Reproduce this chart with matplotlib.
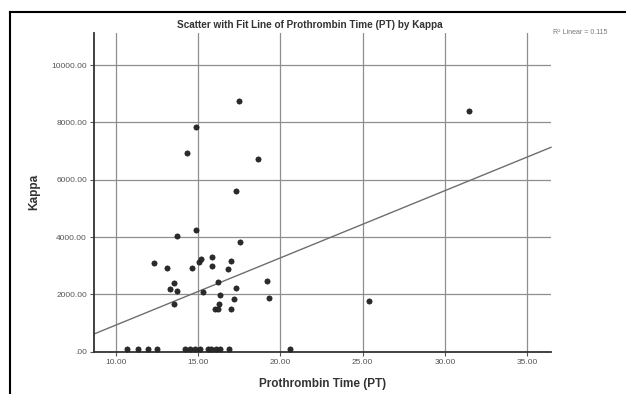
import matplotlib
matplotlib.use("Agg")
import matplotlib.pyplot as plt
from matplotlib.lines import Line2D
from matplotlib.ticker import FuncFormatter

plt.rcParams['font.family'] = ['Liberation Sans', 'DejaVu Sans']

# values
pt = [17.47, 14.84, 14.33, 18.64, 17.32, 14.84, 13.72, 17.53, 12.31, 13.11,
      14.63, 15.04, 15.16, 15.85, 15.85, 17.02, 16.82, 13.52, 13.32, 13.74,
      16.18, 15.30, 17.32, 16.31, 19.21, 19.31, 13.52, 17.18, 16.25, 16.01,
      16.21, 17.02, 31.48, 25.37,
      10.65, 11.35, 11.96, 12.47, 14.2, 14.5, 14.8, 15.1, 15.6, 15.8,
      16.1, 16.3, 16.9, 20.56]
kappa = [8730, 7830, 6925, 6715, 5620, 4250, 4050, 3840, 3085, 2910,
         2930, 3140, 3225, 3295, 3000, 3175, 2875, 2410, 2180, 2120,
         2420, 2095, 2215, 1980, 2470, 1865, 1655, 1840, 1655, 1480,
         1480, 1480, 8410, 1770,
         80, 80, 80, 80, 80, 80, 80, 80, 80, 80,
         80, 80, 80, 80]

fit_intercept = -1416
fit_slope = 234.5
r2 = 0.115

x_ticks = [10, 15, 20, 25, 30, 35]
y_ticks = [0, 2000, 4000, 6000, 8000, 10000]
x_lim = (8.67, 36.45)
y_lim = (0, 11120)


def fmt(v, pos):
    s = f"{v:.2f}"
    if s.startswith("0."):
        s = s[1:]
    return s


fig = plt.figure(figsize=(6.26, 3.94), dpi=100)
ax = fig.add_axes([94 / 626, 42.3 / 394, 457 / 626, 318.7 / 394])

ax.set_xlim(*x_lim)
ax.set_ylim(*y_lim)
ax.set_xticks(x_ticks)
ax.set_yticks(y_ticks)
ax.xaxis.set_major_formatter(FuncFormatter(fmt))
ax.yaxis.set_major_formatter(FuncFormatter(fmt))
ax.grid(True, color='#8f8f8f', linewidth=0.9)
ax.set_axisbelow(True)

for s in ['top', 'right']:
    ax.spines[s].set_visible(False)
for s in ['left', 'bottom']:
    ax.spines[s].set_color('#333333')
    ax.spines[s].set_linewidth(1.3)
ax.tick_params(length=3, width=0.8, color='#555555', labelsize=6,
               labelcolor='#555555', pad=2)

ax.plot(x_lim, [fit_intercept + fit_slope * x for x in x_lim],
        color='#6e6e6e', linewidth=1.0, clip_on=False, zorder=2)
ax.scatter(pt, kappa, s=14, color='#2b2b2b', edgecolors='#1a1a1a',
           linewidths=0.5, zorder=3, clip_on=False)

ax.set_xlabel('Prothrombin Time (PT)', fontsize=8.5, fontweight='bold',
              color='#333333', labelpad=9)
ax.set_ylabel('Kappa', fontsize=8.5, fontweight='bold', color='#333333',
              labelpad=8)

fig.text(310 / 626, 1 - 25 / 394,
         'Scatter with Fit Line of Prothrombin Time (PT) by Kappa',
         ha='center', va='center', fontsize=7.2, fontweight='bold',
         color='#333333')
fig.text(553 / 626, 1 - 33 / 394, f'R\u00b2 Linear = {r2}', ha='left',
         va='center', fontsize=5, color='#777777')

# outer frame (only the left and top edges are visible)
fig.add_artist(Line2D([10 / 626, 10 / 626], [0, 1 - 12 / 394],
                      color='black', linewidth=1.5))
fig.add_artist(Line2D([10 / 626, 1], [1 - 12 / 394, 1 - 12 / 394],
                      color='black', linewidth=1.5))

fig.savefig('out.png', dpi=100)
